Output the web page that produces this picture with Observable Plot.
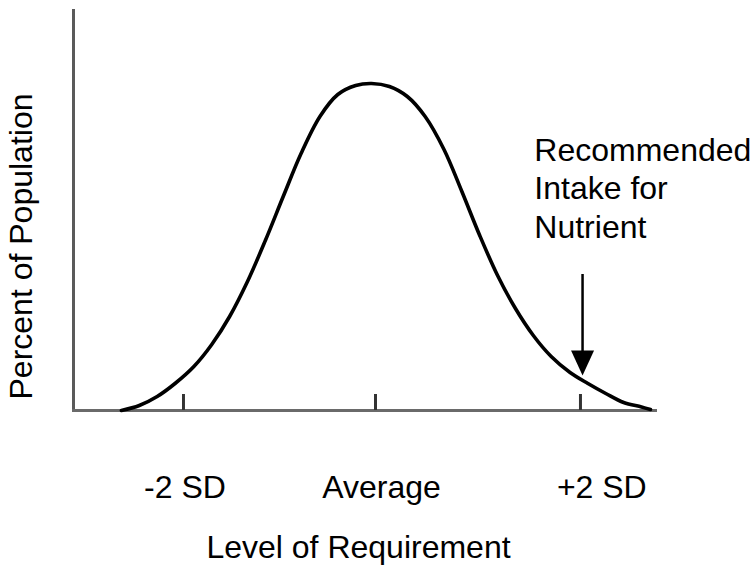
<!DOCTYPE html>
<html>
<head>
<meta charset="utf-8">
<script src="https://cdn.jsdelivr.net/npm/d3@7"></script>
<script src="https://cdn.jsdelivr.net/npm/@observablehq/plot@0.6"></script>
<style>
  html, body { margin: 0; padding: 0; background: #fff; }
</style>
</head>
<body>
<div id="chart"></div>
<script>
// Curve: level (in SD units from the average) and percent of population
const curveLevel = [-2.56, -2.38, -2.20, -2.02, -1.83, -1.65, -1.47, -1.29, -1.11, -0.93, -0.75, -0.56, -0.38, -0.20, -0.04, 0.14, 0.32, 0.50, 0.69, 0.87, 1.05, 1.23, 1.41, 1.59, 1.77, 1.96, 2.14, 2.32, 2.50, 2.68, 2.77];
const curvePercent = [0, 1.25, 3.5, 6.75, 11, 16.5, 23.5, 32.25, 42.5, 53.5, 64.25, 73.5, 79, 81.25, 81.75, 81, 78.5, 73.5, 65.25, 54.75, 43.75, 33.75, 25.5, 18.75, 13.5, 9.5, 6.75, 4.25, 2, 0.9, 0.25];

// Axis ticks
const tickLevels = [-1.935, 0, 2.065];
const tickLabels = ["-2 SD", "Average", "+2 SD"];
const tickLabelLevels = [-1.92, 0.06, 2.28];

// Titles
const xTitle = "Level of Requirement";
const yTitle = "Percent of Population";

// Annotation and arrow
const noteText = "Recommended\nIntake for\nNutrient";
const noteLevel = 1.60;
const notePercent = 43.25;
const arrowLevel = 2.086;
const arrowTop = 34;
const arrowTip = 8.75;

const curve = curveLevel.map((x, i) => ({x, y: curvePercent[i]}));
const labels = tickLabels.map((t, i) => ({t, x: tickLabelLevels[i]}));

const headSymbol = {
  draw(ctx) {
    ctx.moveTo(0, 0);
    ctx.lineTo(-11.5, -25);
    ctx.lineTo(11.5, -25);
    ctx.closePath();
  }
};

const font = "'Liberation Sans', Arial, Helvetica, sans-serif";
const fs = 32;

const chart = Plot.plot({
  width: 756,
  height: 572,
  marginLeft: 73,
  marginRight: 101,
  marginTop: 10,
  marginBottom: 162,
  style: {fontFamily: font, fontSize: fs + "px", background: "#fff", color: "#000"},
  x: {domain: [-3.043, 2.821], axis: null},
  y: {domain: [0, 100], axis: null},
  marks: [
    Plot.frame({anchor: "left", stroke: "#5a5a5a", strokeWidth: 3}),
    Plot.frame({anchor: "bottom", stroke: "#6a6a6a", strokeWidth: 3}),
    Plot.ruleX(tickLevels, {x: d => d, y1: 0, y2: 4, stroke: "#333", strokeWidth: 3}),
    Plot.line(curve, {x: "x", y: "y", curve: "catmull-rom", stroke: "#000", strokeWidth: 3.6}),
    Plot.ruleX([arrowLevel], {x: d => d, y1: arrowTop, y2: arrowTip + 5, stroke: "#000", strokeWidth: 2.5}),
    Plot.dot([arrowLevel], {x: d => d, y: arrowTip, symbol: headSymbol, fill: "#000", stroke: "none", r: 1}),
    Plot.text(labels, {x: "x", text: "t", frameAnchor: "bottom", dy: 87, lineAnchor: "bottom", fontSize: fs, fill: "#000"}),
    Plot.text([xTitle], {frameAnchor: "bottom", dx: -6, dy: 147, textAnchor: "middle", lineAnchor: "bottom", fontSize: fs, fill: "#000"}),
    Plot.text([yTitle], {frameAnchor: "left", dx: -42, dy: 36, rotate: -90, textAnchor: "middle", lineAnchor: "bottom", fontSize: fs, fill: "#000"}),
    Plot.text([noteText], {x: noteLevel, y: notePercent, textAnchor: "start", lineAnchor: "bottom", lineHeight: 1.19, fontSize: fs, fill: "#000"})
  ]
});

document.getElementById("chart").appendChild(chart);
</script>
</body>
</html>
